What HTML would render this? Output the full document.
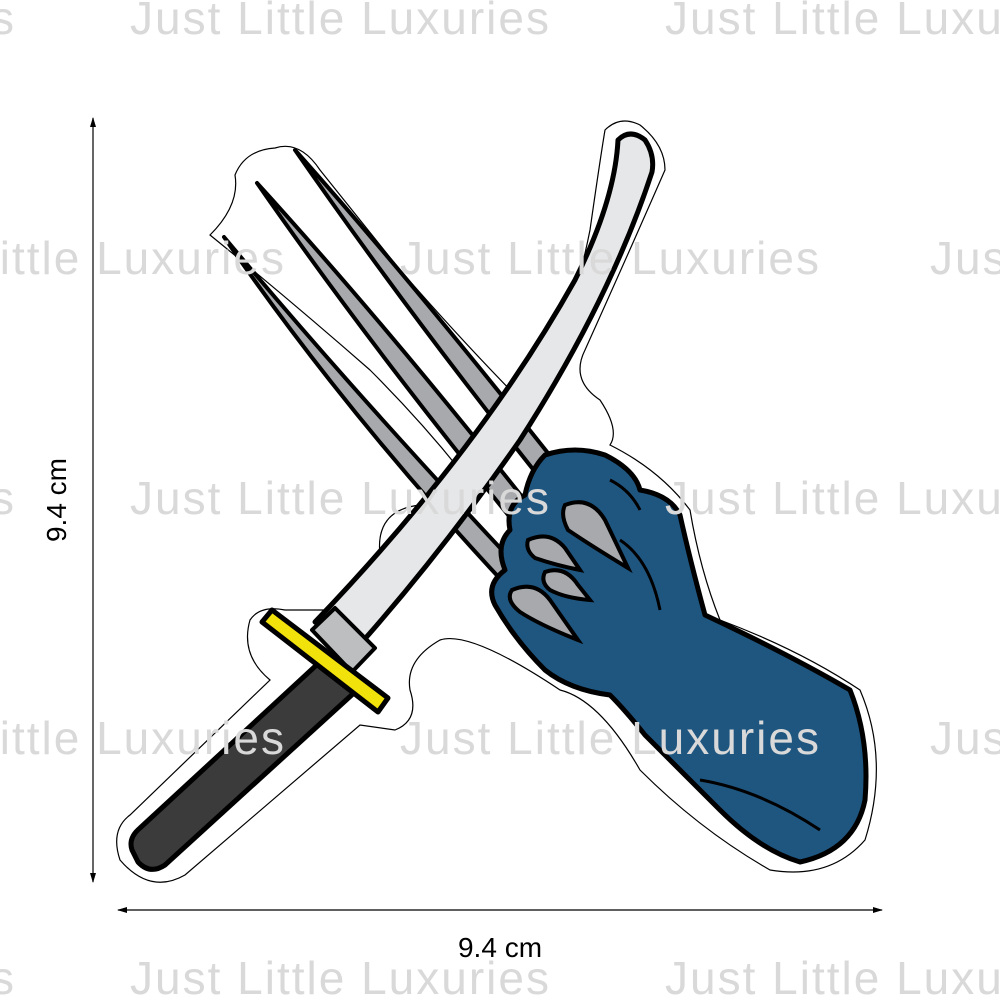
<!DOCTYPE html>
<html><head><meta charset="utf-8"><style>
html,body{margin:0;padding:0;background:#fff;}
svg{display:block;}
.wm{font-family:"Liberation Sans",sans-serif;font-size:46px;fill:#d9d9d9;letter-spacing:2px;}
.dim{font-family:"Liberation Sans",sans-serif;font-size:28px;fill:#000;}
</style></head><body>
<svg width="1000" height="1000" viewBox="0 0 1000 1000" xmlns="http://www.w3.org/2000/svg">
<defs>
<marker id="ah" markerWidth="10" markerHeight="10" refX="9" refY="5" orient="auto" markerUnits="userSpaceOnUse">
<path d="M0,2 L10,5 L0,8 z" fill="#000"/></marker>
</defs>

<path d="M210,235 Q240,205 235,175 Q245,150 275,148 Q300,140 320,170 L400,270 Q470,350 530,410 Q570,330 590,230 Q600,160 605,130 Q620,115 640,125 Q665,145 665,170 Q630,250 585,350 Q570,380 600,400 Q620,430 610,445 Q660,470 690,510 Q700,570 720,620 Q800,650 860,690 Q890,760 865,840 Q830,880 770,870 Q700,830 640,770 Q600,700 560,690 Q470,630 440,640 Q405,660 410,690 Q420,720 395,730 L360,725 L185,875 Q150,895 120,860 Q110,830 130,815 L270,680 Q240,655 250,620 Q260,605 285,610 L330,610 Q360,580 380,555 Q375,510 420,505 L460,470 Q420,420 370,370 Q290,300 210,235 Z" fill="#fff" stroke="#000" stroke-width="1.2"/>

<g fill="#a7a9ac" stroke="#000" stroke-width="4" stroke-linejoin="round">
<path d="M295,150 Q420,290 585,500 L572,518 Q420,330 295,150 Z"/>
<path d="M257,183 Q400,340 560,545 L545,560 Q380,360 257,183 Z"/>
<path d="M224,237 Q360,400 535,585 L520,600 Q350,420 224,237 Z"/>
</g>

<path d="M545,455 Q575,445 605,455 Q635,470 640,490 Q670,495 680,515 Q690,560 705,615 Q790,655 850,690 Q870,740 865,800 Q855,850 800,862 Q760,850 720,810 Q680,770 645,735 Q625,710 610,695 Q570,690 545,670 Q515,640 495,605 Q485,585 505,570 Q495,545 510,530 Q505,505 525,495 Q530,470 545,455 Z" fill="#1f5680" stroke="#000" stroke-width="5" stroke-linejoin="round"/>
<g fill="none" stroke="#000" stroke-width="3">
<path d="M620,540 Q650,560 660,610"/>
<path d="M610,480 Q630,490 640,510"/>
<path d="M700,780 Q760,790 820,830"/>
</g>
<g fill="#a7a9ac" stroke="#000" stroke-width="4">
<path d="M565,505 Q590,495 605,520 L628,568 Q590,545 568,530 Q560,515 565,505 Z"/>
<path d="M528,540 Q550,530 565,548 L580,570 Q555,565 535,558 Q525,550 528,540 Z"/>
<path d="M545,572 Q565,565 578,585 L590,600 Q565,598 550,590 Q540,582 545,572 Z"/>
<path d="M512,590 Q535,580 550,600 L578,640 Q540,625 520,612 Q505,600 512,590 Z"/>
</g>

<path d="M315,622 Q480,450 575,280 Q615,200 618,140 Q630,128 645,140 Q655,155 652,172 Q610,300 520,440 Q440,555 355,650 Z" fill="#e6e7e8" stroke="#000" stroke-width="5" stroke-linejoin="round"/>
<path d="M312,630 L335,608 L375,648 L352,672 Z" fill="#bcbec0" stroke="#000" stroke-width="4" stroke-linejoin="round"/>
<path d="M322,660 L355,692 L165,865 Q150,875 138,862 L132,850 Q128,838 140,828 Z" fill="#3b3b3b" stroke="#000" stroke-width="5" stroke-linejoin="round"/>
<path d="M262,622 L272,610 L388,698 L378,712 Z" fill="#f2e20c" stroke="#000" stroke-width="5" stroke-linejoin="round"/>

<g class="wm">
<text x="-405" y="34">Just Little Luxuries</text>
<text x="130" y="34">Just Little Luxuries</text>
<text x="665" y="34">Just Little Luxuries</text>
<text x="-135" y="274">Just Little Luxuries</text>
<text x="400" y="274">Just Little Luxuries</text>
<text x="930" y="274">Just Little Luxuries</text>
<text x="-405" y="514">Just Little Luxuries</text>
<text x="130" y="514">Just Little Luxuries</text>
<text x="665" y="514">Just Little Luxuries</text>
<text x="-135" y="754">Just Little Luxuries</text>
<text x="400" y="754">Just Little Luxuries</text>
<text x="930" y="754">Just Little Luxuries</text>
<text x="-405" y="994">Just Little Luxuries</text>
<text x="130" y="994">Just Little Luxuries</text>
<text x="665" y="994">Just Little Luxuries</text>
</g>

<line x1="93" y1="500" x2="93" y2="118" stroke="#000" stroke-width="1.2" marker-end="url(#ah)"/>
<line x1="93" y1="500" x2="93" y2="882" stroke="#000" stroke-width="1.2" marker-end="url(#ah)"/>
<line x1="500" y1="910" x2="118" y2="910" stroke="#000" stroke-width="1.2" marker-end="url(#ah)"/>
<line x1="500" y1="910" x2="882" y2="910" stroke="#000" stroke-width="1.2" marker-end="url(#ah)"/>
<text class="dim" x="500" y="957" text-anchor="middle">9.4 cm</text>
<text class="dim" transform="translate(66,500) rotate(-90)" text-anchor="middle">9.4 cm</text>
</svg>
</body></html>
